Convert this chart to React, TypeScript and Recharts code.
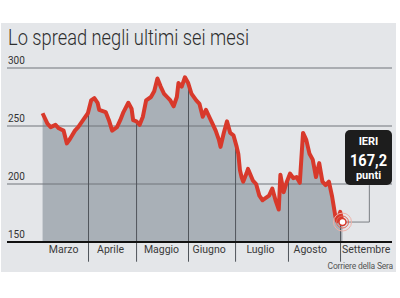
import {
  ComposedChart,
  Area,
  Line,
  XAxis,
  YAxis,
  ReferenceLine
} from 'recharts';

// giorni dal 1° marzo (circa) e valore dello spread
const days = [
  0, 1, 3, 5, 8, 10, 13, 15, 17, 20,
  22, 25, 28, 30, 32, 34, 35, 39, 41, 43,
  46, 48, 50, 53, 55, 56, 58, 60, 62, 64,
  67, 69, 71, 73, 75, 77, 79, 81, 83, 84,
  86, 88, 90, 92, 95, 97, 99, 101, 103, 105,
  107, 109, 110, 112, 114, 116, 118, 120, 121, 122,
  123, 124, 126, 127, 130, 132, 134, 136, 138, 140,
  142, 144, 146, 147, 149, 151, 153, 155, 157, 159,
  161, 163, 165, 167, 169, 171, 173, 175, 177, 179,
  181, 182, 184, 185.4
];
const values = [
  261, 258, 252, 249, 251, 248, 246, 235, 239, 246,
  249, 255, 261, 272, 274, 270, 264, 262, 255, 246,
  249, 255, 262, 270, 265, 255, 254, 251, 258, 272,
  275, 280, 291, 284, 278, 275, 272, 267, 275, 287,
  284, 292, 287, 278, 272, 269, 258, 264, 258, 252,
  246, 238, 232, 244, 254, 244, 242, 232, 226, 212,
  206, 202, 209, 213, 203, 200, 190, 186, 188, 190,
  196, 186, 178, 208, 193, 202, 209, 205, 206, 201,
  244, 238, 226, 221, 206, 218, 202, 199, 202, 189,
  172, 168, 176, 167.2
];

const months = ['Marzo', 'Aprile', 'Maggio', 'Giugno', 'Luglio', 'Agosto', 'Settembre'];
const monthMid = [13, 42, 73.5, 103, 134.7, 165.5, 200];
const monthDividers = [28.4, 58.1, 90.2, 119.3, 152, 184.2];
const yTicks = [150, 200, 250, 300];
const lastValue = 167.2;

const data = days.map((d, i) => ({ day: d, v: values[i] }));

// valore della serie in un giorno qualsiasi (per l'altezza dei divisori)
const valueAt = (d: number) => {
  for (let i = 1; i < days.length; i++) {
    if (days[i] >= d) {
      const t = (d - days[i - 1]) / (days[i] - days[i - 1]);
      return values[i - 1] + t * (values[i] - values[i - 1]);
    }
  }
  return values[values.length - 1];
};

const font = 'Roboto, "Noto Sans", sans-serif';

const YTick = (props: any) => {
  const { y, payload } = props;
  return (
    <text x={8} y={y - 4} fontSize={10} fill="#333" fontFamily={font}>
      {payload.value}
    </text>
  );
};

const EndDot = (props: any) => {
  const { cx, cy, index } = props;
  if (index !== data.length - 1) return <g key={`d-${index}`} />;
  return (
    <g key="end">
      <circle cx={cx} cy={cy} r={9} fill="none" stroke="#efb1a8" strokeWidth={1} />
      <circle cx={cx} cy={cy} r={6} fill="none" stroke="#e2685a" strokeWidth={1} />
      <circle cx={cx} cy={cy} r={3.5} fill="#fff" stroke="#d8392b" strokeWidth={1.5} />
    </g>
  );
};

export default function App() {
  const lastDay = days[days.length - 1];
  return (
    <div style={{ position: 'relative', width: 400, height: 298, fontFamily: font }}>
      <style>{'body{margin:0}'}</style>
      <div
        style={{
          position: 'absolute',
          left: 1,
          top: 23,
          width: 395,
          height: 249,
          background: '#e4e6e9'
        }}
      />
      <svg width={400} height={60} style={{ position: 'absolute', left: 0, top: 0 }}>
        <text
          x={8}
          y={45}
          fontSize={22}
          fontWeight={300}
          fill="#2e2e2e"
          fontFamily={font}
          textLength={241}
          lengthAdjust="spacingAndGlyphs"
        >
          Lo spread negli ultimi sei mesi
        </text>
      </svg>
      <div style={{ position: 'absolute', left: 0, top: 0 }}>
        <ComposedChart
          width={400}
          height={298}
          data={data}
          margin={{ top: 68, right: 8, left: 7, bottom: 36 }}
        >
          <XAxis
            type="number"
            dataKey="day"
            domain={[-22, 216]}
            ticks={monthMid}
            interval={0}
            tickFormatter={(_v: number, i: number) => months[i]}
            axisLine={false}
            tickLine={false}
            tickSize={0}
            tickMargin={4}
            height={20}
            tick={{ fontSize: 10.5, fill: '#3a3a3a', fontFamily: font }}
          />
          <YAxis
            type="number"
            domain={[150, 300]}
            ticks={yTicks}
            interval={0}
            mirror
            axisLine={false}
            tickLine={false}
            tick={YTick}
          />
          <Area
            type="linear"
            dataKey="v"
            baseValue={150}
            fill="#a9b0b7"
            fillOpacity={1}
            stroke="none"
            isAnimationActive={false}
          />
          {[200, 250, 300].map(y => (
            <ReferenceLine key={y} y={y} stroke="#70757b" strokeWidth={1} />
          ))}
          {monthDividers.map(d => (
            <ReferenceLine
              key={d}
              ifOverflow="visible"
              segment={[{ x: d, y: valueAt(d) }, { x: d, y: 133 }]}
              stroke="#50555b"
              strokeWidth={1}
            />
          ))}
          <ReferenceLine y={150} stroke="#111" strokeWidth={2} />
          <ReferenceLine
            ifOverflow="visible"
            segment={[{ x: lastDay, y: lastValue }, { x: 202, y: lastValue }]}
            stroke="#7a7f84"
            strokeWidth={1}
          />
          <ReferenceLine
            ifOverflow="visible"
            segment={[{ x: 202, y: lastValue }, { x: 202, y: 199 }]}
            stroke="#7a7f84"
            strokeWidth={1}
          />
          <Line
            type="linear"
            dataKey="v"
            stroke="#d8392b"
            strokeWidth={4}
            strokeLinejoin="round"
            dot={EndDot}
            activeDot={false}
            isAnimationActive={false}
          />
        </ComposedChart>
      </div>
      <div
        style={{
          position: 'absolute',
          left: 345,
          top: 130,
          width: 47,
          height: 55,
          background: '#1d1d1d',
          borderRadius: 5
        }}
      />
      <svg width={400} height={298} style={{ position: 'absolute', left: 0, top: 0, pointerEvents: 'none' }}>
        <text x={368.5} y={145} textAnchor="middle" fontSize={11} fontWeight={700} fill="#fff" fontFamily={font}>
          IERI
        </text>
        <text
          x={368.5}
          y={166}
          textAnchor="middle"
          fontSize={17}
          fontWeight={700}
          fill="#fff"
          fontFamily={font}
          textLength={37}
          lengthAdjust="spacingAndGlyphs"
        >
          167,2
        </text>
        <text x={368.5} y={179} textAnchor="middle" fontSize={11} fontWeight={700} fill="#fff" fontFamily={font}>
          punti
        </text>
        <text x={393} y={269} textAnchor="end" fontSize={8.5} fill="#555" fontFamily={font} letterSpacing={-0.2}>
          Corriere della Sera
        </text>
      </svg>
    </div>
  );
}
